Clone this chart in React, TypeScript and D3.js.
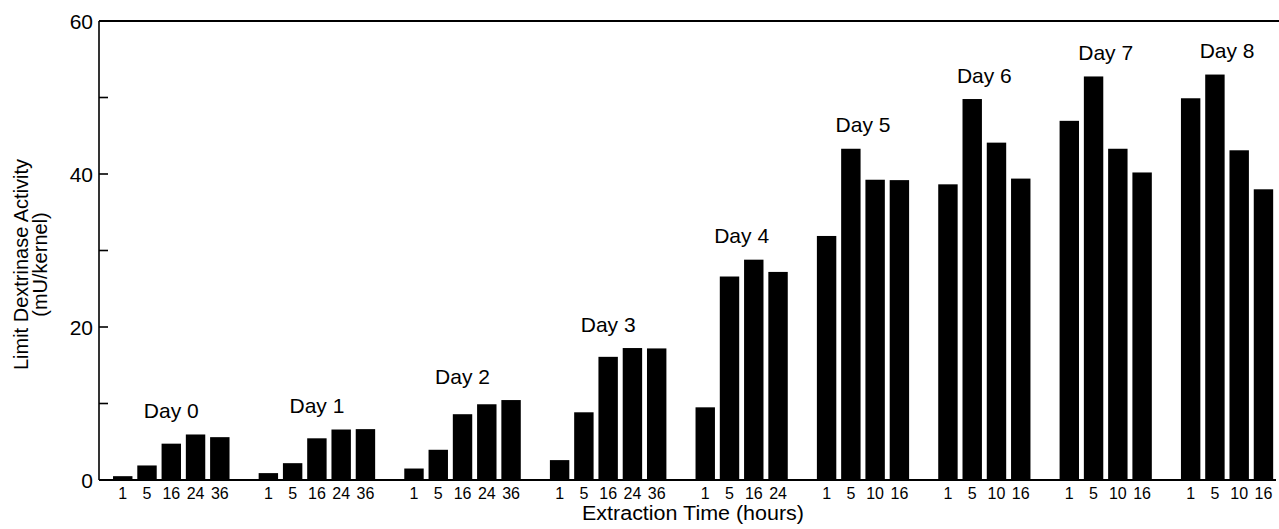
import React from 'react'
import * as d3 from 'd3'

// Days of germination and the extraction times (hours) used for each
const days = ['Day 0', 'Day 1', 'Day 2', 'Day 3', 'Day 4', 'Day 5', 'Day 6', 'Day 7', 'Day 8']
const hoursLong = ['1', '5', '16', '24', '36']
const hoursDay4 = ['1', '5', '16', '24']
const hoursLate = ['1', '5', '10', '16']
const dayHours = [hoursLong, hoursLong, hoursLong, hoursLong, hoursDay4, hoursLate, hoursLate, hoursLate, hoursLate]

// Limit dextrinase activity (mU/kernel), one array per day
const day0 = [0.5, 1.9, 4.75, 5.95, 5.6]
const day1 = [0.9, 2.2, 5.45, 6.6, 6.65]
const day2 = [1.5, 3.95, 8.6, 9.9, 10.45]
const day3 = [2.6, 8.85, 16.1, 17.25, 17.2]
const day4 = [9.5, 26.6, 28.8, 27.2]
const day5 = [31.9, 43.3, 39.25, 39.2]
const day6 = [38.65, 49.8, 44.1, 39.4]
const day7 = [46.95, 52.75, 43.3, 40.2]
const day8 = [49.9, 53.0, 43.1, 38.0]
const dayValues = [day0, day1, day2, day3, day4, day5, day6, day7, day8]

const yMajor = [0, 20, 40, 60]
const yMinor = [10, 30, 50]

const font = 'Liberation Sans, Arial, Helvetica, sans-serif'

function LimitDextrinaseChart({ width = 1279, height = 529 }) {
  const svgRef = React.useRef(null)

  React.useEffect(() => {
    const svg = d3.select(svgRef.current)
    svg.selectAll('*').remove()

    const margin = { top: 21, right: 3, bottom: 49, left: 99 }

    // one slot per bar, plus an empty slot between day groups
    const slots = []
    const bars = []
    days.forEach((day, i) => {
      dayHours[i].forEach((h, j) => {
        const key = `${day}|${h}`
        slots.push(key)
        bars.push({ day, hour: h, key, value: dayValues[i][j] })
      })
      if (i < days.length - 1) slots.push(`${day}|gap`)
    })

    const xScale = d3
      .scaleBand()
      .domain(slots)
      .range([110.6, 1275.6])
      .paddingInner(0.2)
      .paddingOuter(0.1)

    const yScale = d3
      .scaleLinear()
      .domain([0, 60])
      .range([height - margin.bottom, margin.top])

    // Bars
    svg
      .selectAll('.bar')
      .data(bars)
      .enter()
      .append('rect')
      .attr('x', (d) => xScale(d.key))
      .attr('width', xScale.bandwidth())
      .attr('y', (d) => yScale(d.value))
      .attr('height', (d) => yScale(0) - yScale(d.value))
      .attr('fill', '#000')

    // Hour labels under bars
    svg
      .selectAll('.hour')
      .data(bars)
      .enter()
      .append('text')
      .attr('x', (d) => xScale(d.key) + xScale.bandwidth() / 2)
      .attr('y', yScale(0) + 18.5)
      .attr('text-anchor', 'middle')
      .attr('font-family', font)
      .attr('font-size', 16)
      .attr('fill', '#000')
      .text((d) => d.hour)

    // Day labels above each group
    days.forEach((day, i) => {
      const hs = dayHours[i]
      const x0 = xScale(`${day}|${hs[0]}`)
      const x1 = xScale(`${day}|${hs[hs.length - 1]}`) + xScale.bandwidth()
      const maxV = d3.max(dayValues[i])
      svg
        .append('text')
        .attr('x', (x0 + x1) / 2)
        .attr('y', yScale(maxV) - 16.5)
        .attr('text-anchor', 'middle')
        .attr('font-family', font)
        .attr('font-size', 21)
        .attr('fill', '#000')
        .text(day)
    })

    // Frame: left axis, top line and baseline
    svg
      .append('line')
      .attr('x1', margin.left)
      .attr('x2', margin.left)
      .attr('y1', yScale(60))
      .attr('y2', yScale(0))
      .attr('stroke', '#000')
      .attr('stroke-width', 1.6)
    svg
      .append('line')
      .attr('x1', margin.left)
      .attr('x2', width)
      .attr('y1', yScale(60))
      .attr('y2', yScale(60))
      .attr('stroke', '#000')
      .attr('stroke-width', 2)
    svg
      .append('line')
      .attr('x1', margin.left)
      .attr('x2', width - margin.right)
      .attr('y1', yScale(0))
      .attr('y2', yScale(0))
      .attr('stroke', '#000')
      .attr('stroke-width', 2)

    // Y ticks (pointing inward)
    svg
      .selectAll('.ytick')
      .data(yMajor.concat(yMinor))
      .enter()
      .append('line')
      .attr('x1', margin.left)
      .attr('x2', margin.left + 9)
      .attr('y1', (d) => yScale(d))
      .attr('y2', (d) => yScale(d))
      .attr('stroke', '#000')
      .attr('stroke-width', 1.6)

    svg
      .selectAll('.ylabel')
      .data(yMajor)
      .enter()
      .append('text')
      .attr('x', margin.left - 6)
      .attr('y', (d) => yScale(d))
      .attr('dy', '0.36em')
      .attr('text-anchor', 'end')
      .attr('font-family', font)
      .attr('font-size', 21)
      .attr('fill', '#000')
      .text((d) => d)

    // Y axis title (two lines)
    const yTitle = svg
      .append('text')
      .attr('transform', `translate(28, ${(yScale(60) + yScale(0)) / 2 + 14}) rotate(-90)`)
      .attr('text-anchor', 'middle')
      .attr('font-family', font)
      .attr('font-size', 20)
      .attr('fill', '#000')
    yTitle.append('tspan').attr('x', 0).attr('y', 0).text('Limit Dextrinase Activity')
    yTitle.append('tspan').attr('x', 0).attr('y', 19).text('(mU/kernel)')

    // X axis title
    svg
      .append('text')
      .attr('x', 693)
      .attr('y', height - 9)
      .attr('text-anchor', 'middle')
      .attr('font-family', font)
      .attr('font-size', 19.5)
      .attr('textLength', 222)
      .attr('lengthAdjust', 'spacingAndGlyphs')
      .attr('fill', '#000')
      .text('Extraction Time (hours)')
  }, [width, height])

  return (
    <svg
      ref={svgRef}
      width={width}
      height={height}
      style={{ position: 'absolute', left: 0, top: 0, background: '#fff' }}
    ></svg>
  )
}

export default function App() {
  return <LimitDextrinaseChart />
}
